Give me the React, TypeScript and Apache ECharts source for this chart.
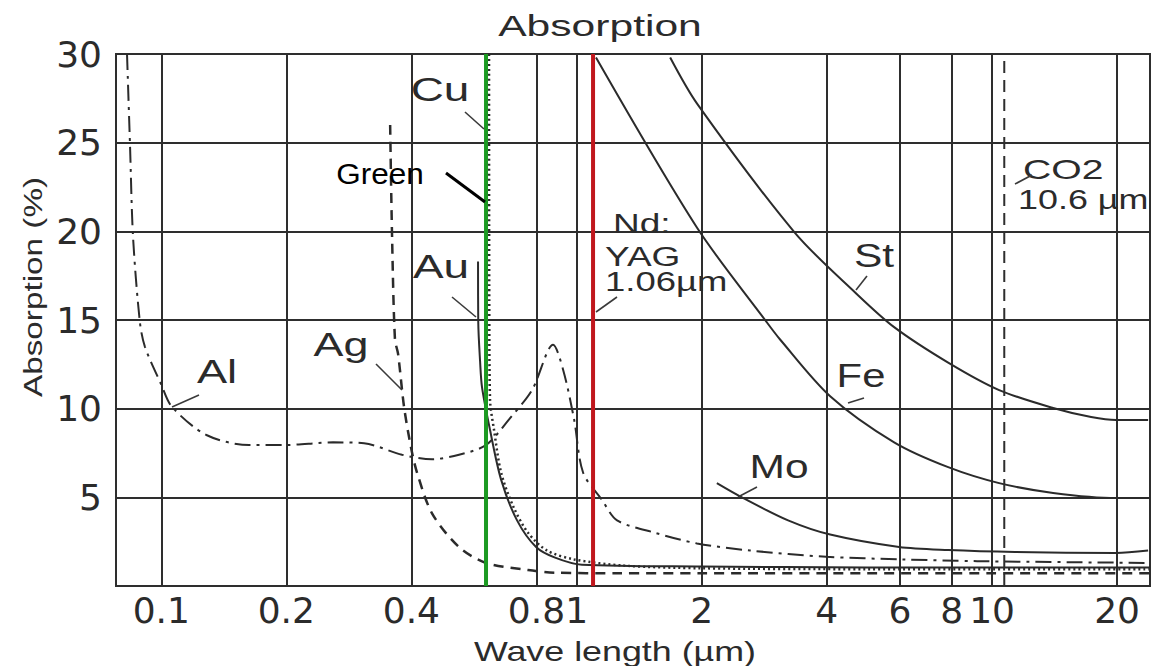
import React, { useEffect, useRef } from "react";
import * as echarts from "echarts";

// ---- axes ----
const xTickValues = [0.1, 0.2, 0.4, 0.8, 1, 2, 4, 6, 8, 10, 20];
const xMin = 0.0778;
const xMax = 24;
const yMin = 0;
const yMax = 30;
const yStep = 5;

// ---- curves (wavelength in µm, absorption in %) ----
const alWavelength = [0.0827, 0.0841, 0.0855, 0.0888, 0.0913, 0.0998, 0.1061, 0.1288, 0.1627, 0.1975, 0.2591, 0.3077, 0.3798, 0.4485, 0.5209, 0.6048, 0.6875, 0.7808, 0.8773, 0.9275, 0.9857, 1.036, 1.151, 1.251, 1.545, 1.949, 2.616, 3.985, 6.075, 9.21, 24];
const alAbsorption = [30, 24.8, 19.7, 14.9, 13.5, 11.4, 10.1, 8.5, 7.95, 7.95, 8.1, 8.05, 7.4, 7.15, 7.4, 7.95, 9.4, 11.05, 13.6, 12.2, 9.4, 6.4, 4.85, 3.7, 3.0, 2.4, 2.0, 1.65, 1.5, 1.4, 1.3];

const agWavelength = [0.3556, 0.3594, 0.3652, 0.3715, 0.3841, 0.3993, 0.4127, 0.4485, 0.5209, 0.6048, 0.7637, 0.8871, 1.25, 2, 5, 10, 24];
const agAbsorption = [26.0, 19.7, 13.9, 13.1, 10.1, 7.8, 6.4, 4.1, 2.2, 1.3, 0.9, 0.75, 0.72, 0.72, 0.72, 0.72, 0.72];

const auWavelength = [0.5788, 0.5795, 0.5853, 0.5918, 0.6186, 0.6577, 0.7186, 0.7985, 0.8871, 1.03, 2, 5, 10, 24];
const auAbsorption = [18.3, 14.9, 12.7, 11.2, 8.8, 6.0, 3.7, 2.2, 1.6, 1.2, 1.1, 1.05, 1.05, 1.05];

const cuWavelength = [0.6152, 0.616, 0.6186, 0.6325, 0.6577, 0.7031, 0.7637, 0.8486, 0.9857, 1.3, 2, 5, 10, 24];
const cuAbsorption = [30, 16, 10.5, 8.8, 6.4, 4.5, 3.0, 2.0, 1.5, 1.15, 1.0, 0.95, 0.95, 0.95];

const moWavelength = [2.175, 2.498, 3.228, 4.076, 5.974, 7.84, 11.36, 19.9, 23.75];
const moAbsorption = [5.8, 5.0, 3.7, 2.9, 2.2, 2.03, 1.92, 1.86, 2.0];

const feWavelength = [1.113, 1.949, 2.842, 3.088, 4.076, 5.811, 7.84, 10.4, 14.03, 19.9, 23.75];
const feAbsorption = [29.8, 20.2, 15.0, 13.9, 10.7, 8.1, 6.7, 5.8, 5.25, 4.96, 4.96];

const stWavelength = [1.679, 1.949, 3.357, 4.708, 5.811, 7.84, 10.4, 14.03, 17.32, 19.9, 23.75];
const stAbsorption = [29.8, 27.2, 19.9, 16.5, 14.6, 12.6, 11.05, 10.04, 9.53, 9.36, 9.36];

// ---- laser marker lines (µm, as drawn) ----
const greenLaser = 0.605;
const ndYagLaser = 1.095;
const co2Laser = 10.7;

const zip = (xs: number[], ys: number[]) => xs.map((x, i) => [x, ys[i]]);
const vertical = (x: number) => [[x, yMin], [x, yMax]];

const INK = "#2b2b2b";
const FONT = '"Liberation Sans", Arial, sans-serif';

function label(text: string, x: number, y: number, size: number, sx: number, align = "center", fill = INK) {
  return {
    type: "text",
    x,
    y,
    scaleX: sx,
    z: 50,
    style: {
      text,
      font: `${size}px ${FONT}`,
      fill,
      align,
      verticalAlign: "middle",
    },
  };
}

function pointer(x1: number, y1: number, x2: number, y2: number, w = 1.6, stroke = "#3a3a3a") {
  return {
    type: "line",
    z: 50,
    shape: { x1, y1, x2, y2 },
    style: { stroke, lineWidth: w },
  };
}

export default function App() {
  const ref = useRef<HTMLDivElement>(null);

  useEffect(() => {
    if (!ref.current) return;
    const chart = echarts.init(ref.current, null, { renderer: "svg" });

    const curve = (name: string, xs: number[], ys: number[], type: any, width = 2) => ({
      name,
      type: "line",
      data: zip(xs, ys),
      showSymbol: false,
      symbol: "none",
      smooth: 0.3,
      z: 3,
      lineStyle: { color: INK, width, type },
    });

    const laser = (name: string, x: number, color: string, width: number, type: any = "solid") => ({
      name,
      type: "line",
      data: vertical(x),
      showSymbol: false,
      symbol: "none",
      z: 5,
      lineStyle: { color, width, type },
    });

    chart.setOption({
      animation: false,
      backgroundColor: "#ffffff",
      grid: {
        left: 116,
        right: 5,
        top: 54,
        bottom: 80,
        show: true,
        borderColor: "#2e2e2e",
        borderWidth: 2,
        backgroundColor: "transparent",
      },
      xAxis: {
        type: "log",
        logBase: 10,
        min: xMin,
        max: xMax,
        axisLine: { show: false },
        axisTick: { show: false, customValues: xTickValues },
        axisLabel: {
          customValues: xTickValues,
          formatter: (v: number) => String(+(+v).toPrecision(3)),
          fontSize: 36,
          fontFamily: '"DejaVu Sans", sans-serif',
          color: INK,
          margin: 6,
        },
        splitLine: { show: true, lineStyle: { color: "#2e2e2e", width: 2 } },
        minorSplitLine: { show: false },
      },
      yAxis: {
        type: "value",
        min: yMin,
        max: yMax,
        interval: yStep,
        axisLine: { show: false },
        axisTick: { show: false },
        axisLabel: {
          formatter: (v: number) => (v === 0 ? "" : String(v)),
          fontSize: 36,
          fontFamily: '"DejaVu Sans", sans-serif',
          color: INK,
          margin: 14,
        },
        splitLine: { show: true, lineStyle: { color: "#2e2e2e", width: 2 } },
      },
      series: [
        curve("Al", alWavelength, alAbsorption, [16, 6, 3, 6], 2),
        curve("Ag", agWavelength, agAbsorption, [10, 7], 2.5),
        curve("Au", auWavelength, auAbsorption, "solid", 2),
        curve("Cu", cuWavelength, cuAbsorption, [2, 3], 2.5),
        curve("Mo", moWavelength, moAbsorption, "solid", 2),
        curve("Fe", feWavelength, feAbsorption, "solid", 2),
        curve("St", stWavelength, stAbsorption, "solid", 2),
        laser("CO2", co2Laser, "#2e2e2e", 2, [12, 7]),
        laser("Green", greenLaser, "#1c9a22", 4),
        laser("Nd:YAG", ndYagLaser, "#c0171d", 4),
      ],
      graphic: [
        label("Absorption", 600, 26, 30, 1.42),
        {
          type: "text",
          x: 33,
          y: 287,
          rotation: Math.PI / 2,
          scaleX: 1.28,
          z: 50,
          style: {
            text: "Absorption (%)",
            font: `26px ${FONT}`,
            fill: INK,
            align: "center",
            verticalAlign: "middle",
          },
        },
        label("Wave length (µm)", 615, 651, 28, 1.28),
        label("Cu", 440, 89, 34, 1.35),
        pointer(465, 112, 484, 129),
        label("Green", 380, 174, 30, 1.05, "center", "#000000"),
        pointer(446, 173, 485, 202, 3, "#000000"),
        label("Au", 441, 266, 34, 1.35),
        pointer(452, 297, 476, 317),
        label("Ag", 341, 344, 34, 1.32),
        pointer(376, 364, 402, 390),
        label("Al", 217, 371, 34, 1.33),
        pointer(199, 395, 172, 407),
        label("Nd:", 613, 224, 27, 1.37, "left"),
        label("YAG", 605, 257, 27, 1.37, "left"),
        label("1.06µm", 605, 282, 27, 1.35, "left"),
        pointer(617, 297, 596, 312),
        label("St", 874, 255, 34, 1.25),
        pointer(867, 276, 856, 290),
        label("Fe", 861, 375, 34, 1.23),
        pointer(864, 398, 848, 403),
        label("Mo", 779, 466, 34, 1.25),
        pointer(757, 487, 738, 497),
        label("CO2", 1023, 170, 27, 1.45, "left"),
        label("10.6 µm", 1018, 200, 27, 1.33, "left"),
        pointer(1015, 184, 1032, 175),
      ],
    });

    return () => chart.dispose();
  }, []);

  return (
    <div
      ref={ref}
      style={{ position: "fixed", left: 0, top: 0, width: 1155, height: 666, background: "#fff" }}
    />
  );
}
